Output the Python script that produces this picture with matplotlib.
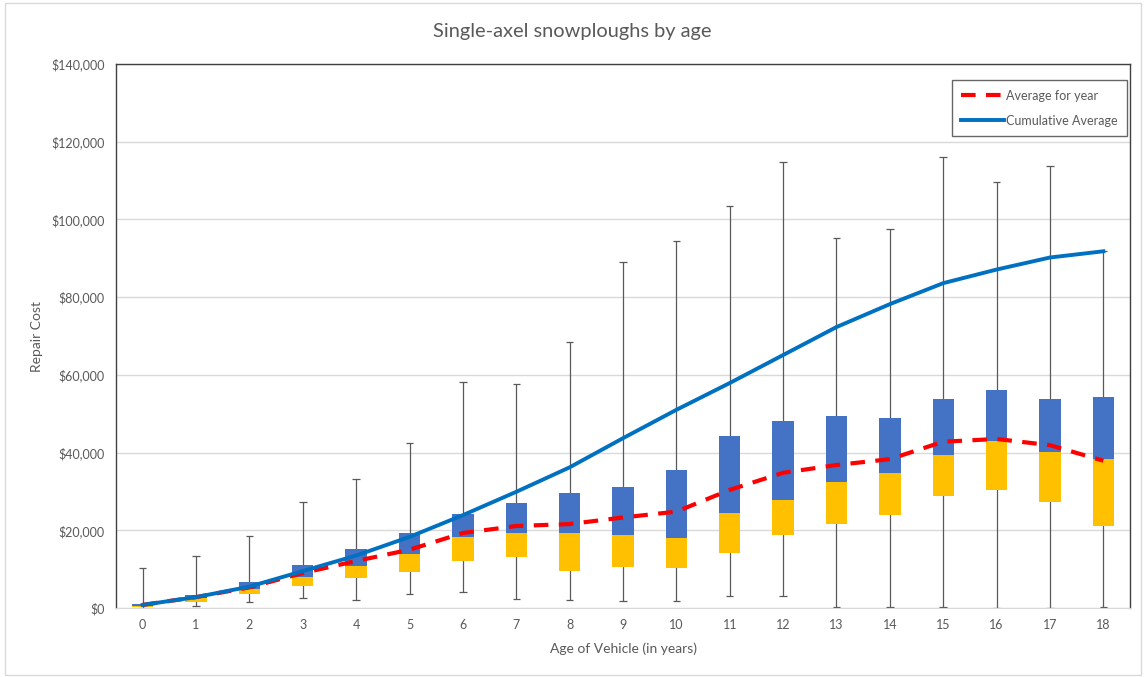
import numpy as np
import matplotlib.pyplot as plt
from matplotlib.patches import Rectangle
from matplotlib.ticker import FuncFormatter

plt.rcParams['font.family'] = ['Lato', 'DejaVu Sans']

# Repair cost statistics by vehicle age
ages = list(range(19))
cost_min = [0, 400, 1500, 2500, 2000, 3500, 4000, 2200, 2000, 1700, 1800,
            3200, 3000, 300, 300, 300, 0, 0, 300]
cost_q1 = [200, 1500, 3600, 5700, 7700, 9300, 12100, 13000, 9600, 10600, 10400,
           14200, 18900, 21600, 24000, 28800, 30400, 27300, 21100]
cost_median = [500, 2700, 4900, 8000, 10900, 14000, 18400, 19300, 19300, 18800, 18100,
               24400, 27700, 32400, 34800, 39400, 43000, 40100, 38300]
cost_q3 = [1000, 3300, 6700, 11100, 15200, 19300, 24100, 27000, 29700, 31100, 35500,
           44200, 48100, 49500, 48800, 53900, 56100, 53900, 54200]
cost_max = [10300, 13400, 18500, 27200, 33300, 42500, 58200, 57600, 68500, 89000, 94400,
            103400, 114700, 95300, 97500, 116100, 109600, 113700, 92000]
avg_for_year = [800, 2800, 5300, 9000, 12100, 15000, 19300, 21100, 21600, 23300, 24800,
                30400, 34800, 36800, 38300, 42800, 43500, 41900, 37900]
cumulative_avg = [800, 2800, 5500, 9500, 13500, 18300, 23900, 29900, 36200, 43700, 51000,
                  57900, 65100, 72300, 78200, 83600, 87100, 90200, 91800]

fig = plt.figure(figsize=(11.44, 6.77), dpi=100)
ax = fig.add_axes([116 / 1144, 69 / 677, (1130 - 116) / 1144, (608 - 64) / 677])

# outer chart border
fig.patches.append(Rectangle((5 / 1144, 2 / 677), 1136 / 1144, 672 / 677,
                             transform=fig.transFigure, fill=False,
                             edgecolor='#d9d9d9', linewidth=1))

x = np.array(ages)
q1 = np.array(cost_q1)
med = np.array(cost_median)
q3 = np.array(cost_q3)

# whiskers
ax.vlines(x, cost_min, cost_max, color='#595959', linewidth=0.9, zorder=2)
ax.hlines(cost_min, x - 0.07, x + 0.07, color='#595959', linewidth=0.9, zorder=2)
ax.hlines(cost_max, x - 0.07, x + 0.07, color='#595959', linewidth=0.9, zorder=2)

# boxes
ax.bar(x, med - q1, bottom=q1, width=0.4, color='#FFC000', zorder=3)
ax.bar(x, q3 - med, bottom=med, width=0.4, color='#4472C4', zorder=3)

ax.plot(x, avg_for_year, color='#FF0000', linewidth=3, dashes=(3.5, 2.5),
        label='Average for year', zorder=4)
ax.plot(x, cumulative_avg, color='#0070C0', linewidth=2.8,
        label='Cumulative Average', zorder=5)

ax.set_xlim(-0.5, 18.5)
ax.set_ylim(0, 140000)
ax.set_xticks(ages)
ax.set_yticks(np.arange(0, 140001, 20000))
ax.yaxis.set_major_formatter(FuncFormatter(lambda v, p: '${:,.0f}'.format(v)))
ax.tick_params(length=0, labelsize=9, labelcolor='#595959', pad=8)
ax.grid(axis='y', color='#d9d9d9', linewidth=1)
ax.set_axisbelow(True)

for s in ['left', 'top', 'right']:
    ax.spines[s].set_color('#404040')
    ax.spines[s].set_linewidth(1)
ax.spines['bottom'].set_color('#d9d9d9')

ax.set_xlabel('Age of Vehicle (in years)', fontsize=10, color='#595959', labelpad=8)
ax.set_ylabel('Repair Cost', fontsize=10, color='#595959', labelpad=6)
fig.text(0.5, 0.953, 'Single-axel snowploughs by age', ha='center', va='center',
         fontsize=14.4, color='#595959')

leg = ax.legend(loc='upper right', bbox_to_anchor=(0.9975, 0.97), fontsize=9,
                frameon=True, fancybox=False, handlelength=3.4, borderpad=0.75,
                labelspacing=1.05, handletextpad=0.2, borderaxespad=0,
                labelcolor='#595959')
leg.get_frame().set_edgecolor('#404040')
leg.get_frame().set_linewidth(1)

fig.savefig('out.png', dpi=100)
